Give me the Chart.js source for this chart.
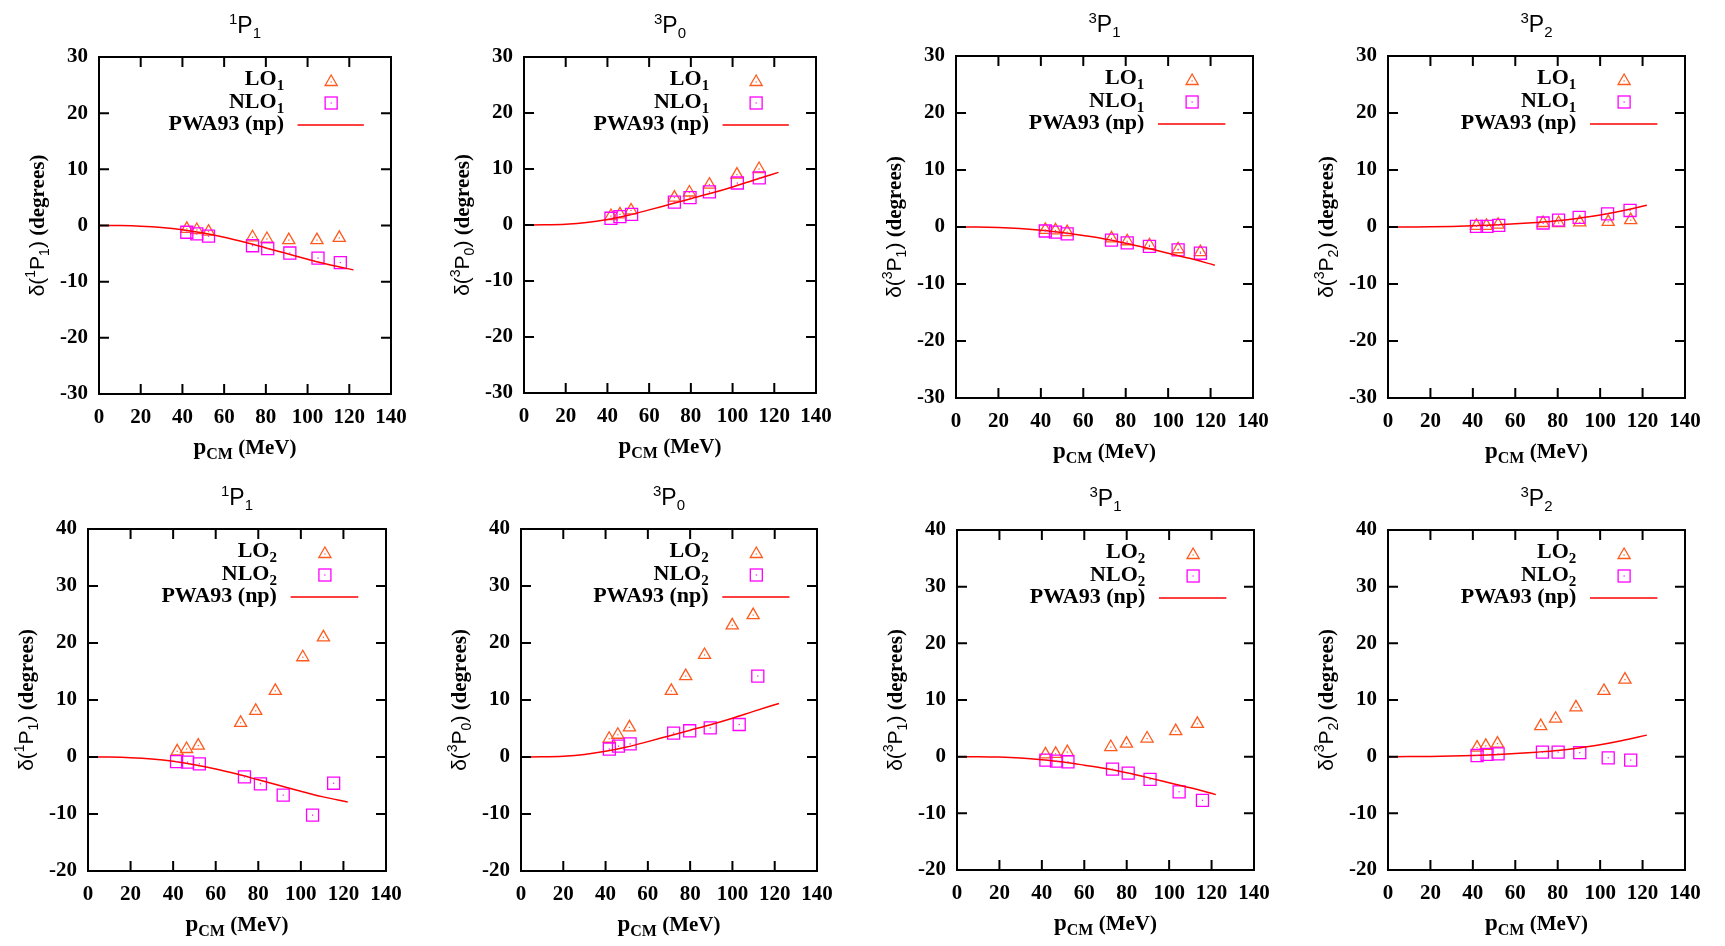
<!DOCTYPE html>
<html>
<head>
<meta charset="utf-8">
<script src="https://cdn.jsdelivr.net/npm/chart.js@4.4.0/dist/chart.umd.min.js"></script>
<style>
  body { margin: 0; background: #fff; width: 1725px; height: 946px; position: relative; overflow: hidden; }
  canvas { position: absolute; }
</style>
</head>
<body>
<script>
// ---- DATA ----

// PWA93 (np) curves, shared momentum grid
var pwaP   = [0, 10, 20, 30, 40, 50, 60, 70, 80, 90, 100, 110, 122];
var pwa1P1 = [0, -0.02, -0.12, -0.35, -0.75, -1.35, -2.1, -3.0, -4.0, -5.0, -6.0, -6.95, -7.9];
var pwa3P0 = [0, 0.03, 0.15, 0.45, 1.0, 1.75, 2.7, 3.7, 4.7, 5.7, 6.8, 8.0, 9.4];
var pwa3P1 = [0, -0.01, -0.08, -0.25, -0.55, -0.95, -1.5, -2.1, -2.85, -3.7, -4.6, -5.5, -6.7];
var pwa3P2 = [0, 0.01, 0.03, 0.1, 0.2, 0.35, 0.55, 0.8, 1.1, 1.55, 2.1, 2.8, 3.8];

// top row: LO1 / NLO1
var lo1_1P1_x  = [42.1, 46.9, 52.5, 73.6, 80.5, 91.0, 104.5, 115.2];
var lo1_1P1_y  = [-0.6, -0.8, -1.1, -2.1, -2.4, -2.6, -2.6, -2.2];
var nlo1_1P1_x = [42.1, 46.9, 52.5, 73.6, 80.9, 91.5, 105.0, 115.7];
var nlo1_1P1_y = [-1.2, -1.5, -1.9, -3.6, -4.1, -4.9, -5.8, -6.6];

var lo1_3P0_x  = [41.7, 46.0, 51.3, 72.1, 79.3, 88.9, 102.1, 112.7];
var lo1_3P0_y  = [1.6, 1.9, 2.6, 4.9, 5.8, 7.2, 9.0, 10.0];
var nlo1_3P0_x = [41.7, 46.0, 51.6, 72.1, 79.6, 88.9, 102.3, 112.8];
var nlo1_3P0_y = [1.2, 1.5, 1.9, 4.1, 4.9, 5.9, 7.5, 8.4];

var lo1_3P1_x  = [42.1, 46.9, 52.4, 73.3, 80.7, 91.2, 104.7, 115.2];
var lo1_3P1_y  = [-0.5, -0.6, -0.9, -2.0, -2.5, -3.2, -3.9, -4.4];
var nlo1_3P1_x = [42.1, 46.9, 52.4, 73.3, 80.7, 91.2, 104.7, 115.2];
var nlo1_3P1_y = [-0.7, -0.9, -1.2, -2.3, -2.8, -3.4, -4.0, -4.6];

var lo1_3P2_x  = [41.7, 46.4, 51.9, 73.1, 80.4, 90.4, 103.8, 114.4];
var lo1_3P2_y  = [0.2, 0.2, 0.4, 0.7, 0.7, 0.8, 0.9, 1.2];
var nlo1_3P2_x = [41.7, 46.7, 52.2, 73.1, 80.4, 90.1, 103.5, 114.1];
var nlo1_3P2_y = [0.1, 0.1, 0.3, 0.7, 1.2, 1.7, 2.3, 2.9];

// bottom row: LO2 / NLO2
var lo2_1P1_x  = [41.9, 46.3, 51.8, 71.7, 78.8, 88.0, 100.9, 110.6];
var lo2_1P1_y  = [1.0, 1.4, 2.0, 6.0, 8.1, 11.6, 17.5, 21.0];
var nlo2_1P1_x = [41.6, 46.8, 52.3, 73.5, 81.0, 91.7, 105.5, 115.4];
var nlo2_1P1_y = [-0.8, -0.9, -1.2, -3.5, -4.7, -6.7, -10.2, -4.6];

var lo2_3P0_x  = [41.7, 45.8, 51.3, 71.1, 77.9, 86.8, 99.9, 109.8];
var lo2_3P0_y  = [3.2, 3.9, 5.2, 11.6, 14.2, 17.9, 23.1, 24.9];
var nlo2_3P0_x = [41.8, 46.1, 51.6, 72.2, 79.8, 89.5, 103.2, 112.0];
var nlo2_3P0_y = [1.4, 1.9, 2.3, 4.2, 4.6, 5.1, 5.7, 14.2];

var lo2_3P1_x  = [41.7, 46.5, 52.0, 72.5, 79.9, 89.6, 103.1, 113.3];
var lo2_3P1_y  = [0.4, 0.5, 0.8, 1.7, 2.3, 3.2, 4.5, 5.8];
var nlo2_3P1_x = [41.9, 46.9, 52.3, 73.3, 80.7, 91.0, 104.7, 115.7];
var nlo2_3P1_y = [-0.6, -0.8, -0.9, -2.2, -2.9, -4.0, -6.2, -7.7];

var lo2_3P2_x  = [42.0, 46.1, 51.6, 72.0, 79.0, 88.6, 101.8, 111.7];
var lo2_3P2_y  = [1.6, 1.9, 2.3, 5.4, 6.7, 8.7, 11.6, 13.6];
var nlo2_3P2_x = [42.0, 46.7, 51.9, 72.8, 80.2, 90.4, 103.8, 114.4];
var nlo2_3P2_y = [0.2, 0.4, 0.5, 0.8, 0.8, 0.7, -0.2, -0.6];

// axis ticks
var xTicks = [0, 20, 40, 60, 80, 100, 120, 140];
var yTicksTop = [-30, -20, -10, 0, 10, 20, 30];
var yTicksBottom = [-20, -10, 0, 10, 20, 30, 40];

// ---- STYLE ----
var LO_COLOR = '#ff5a1e';
var NLO_COLOR = '#ff00ff';
var PWA_COLOR = '#ff0000';
var SERIF = '"Liberation Serif", "Times New Roman", serif';
var SANS = '"Liberation Sans", Arial, sans-serif';

// panel boxes (plot area in page pixels)
var panels = [
  {sup:'1', sub:'1', ord:'1', L:99,   R:391,  T:57,  B:394, yt:yTicksTop, lo:[lo1_1P1_x, lo1_1P1_y], nlo:[nlo1_1P1_x, nlo1_1P1_y], pwa:pwa1P1},
  {sup:'3', sub:'0', ord:'1', L:524,  R:816,  T:57,  B:393, yt:yTicksTop, lo:[lo1_3P0_x, lo1_3P0_y], nlo:[nlo1_3P0_x, nlo1_3P0_y], pwa:pwa3P0},
  {sup:'3', sub:'1', ord:'1', L:956,  R:1253, T:56,  B:398, yt:yTicksTop, lo:[lo1_3P1_x, lo1_3P1_y], nlo:[nlo1_3P1_x, nlo1_3P1_y], pwa:pwa3P1},
  {sup:'3', sub:'2', ord:'1', L:1388, R:1685, T:56,  B:398, yt:yTicksTop, lo:[lo1_3P2_x, lo1_3P2_y], nlo:[nlo1_3P2_x, nlo1_3P2_y], pwa:pwa3P2},
  {sup:'1', sub:'1', ord:'2', L:88,   R:386,  T:529, B:871, yt:yTicksBottom, lo:[lo2_1P1_x, lo2_1P1_y], nlo:[nlo2_1P1_x, nlo2_1P1_y], pwa:pwa1P1},
  {sup:'3', sub:'0', ord:'2', L:521,  R:817,  T:529, B:871, yt:yTicksBottom, lo:[lo2_3P0_x, lo2_3P0_y], nlo:[nlo2_3P0_x, nlo2_3P0_y], pwa:pwa3P0},
  {sup:'3', sub:'1', ord:'2', L:957,  R:1254, T:530, B:870, yt:yTicksBottom, lo:[lo2_3P1_x, lo2_3P1_y], nlo:[nlo2_3P1_x, nlo2_3P1_y], pwa:pwa3P1},
  {sup:'3', sub:'2', ord:'2', L:1388, R:1685, T:530, B:870, yt:yTicksBottom, lo:[lo2_3P2_x, lo2_3P2_y], nlo:[nlo2_3P2_x, nlo2_3P2_y], pwa:pwa3P2}
];

var PAD_L = 100, PAD_T = 60, PAD_R = 40, PAD_B = 75;

function toPoints(xs, ys) {
  return xs.map(function (x, i) { return {x: x, y: ys[i]}; });
}

// draw a row of text pieces with different fonts / offsets
function drawRuns(ctx, runs, x, y, align) {
  var w = 0;
  runs.forEach(function (r) { ctx.font = r.font; r.w = ctx.measureText(r.t).width; w += r.w; });
  var cx = align === 'center' ? x - w / 2 : (align === 'right' ? x - w : x);
  ctx.textAlign = 'left';
  ctx.textBaseline = 'alphabetic';
  runs.forEach(function (r) { ctx.font = r.font; ctx.fillText(r.t, cx, y + (r.dy || 0)); cx += r.w; });
}

function triangle(ctx, x, y, r) {
  ctx.beginPath();
  ctx.moveTo(x, y - r);
  ctx.lineTo(x + r * 0.866, y + r / 2);
  ctx.lineTo(x - r * 0.866, y + r / 2);
  ctx.closePath();
  ctx.stroke();
}

var decor = {
  id: 'decor',
  afterDatasetsDraw: function (chart, args, opts) {
    var p = opts.panel;
    var ctx = chart.ctx;
    var a = chart.chartArea;
    var xs = chart.scales.x, ys = chart.scales.y;
    ctx.save();

    // little dots in the middle of the open markers
    [0, 1].forEach(function (di) {
      var meta = chart.getDatasetMeta(di);
      ctx.fillStyle = chart.data.datasets[di].borderColor;
      meta.data.forEach(function (el) { ctx.fillRect(el.x - 0.6, el.y - 0.6, 1.2, 1.2); });
    });

    // frame and inward ticks (gnuplot style, mirrored)
    ctx.strokeStyle = '#000';
    ctx.lineWidth = 2;
    ctx.strokeRect(a.left, a.top, a.right - a.left, a.bottom - a.top);
    ctx.beginPath();
    xTicks.forEach(function (v) {
      var px = xs.getPixelForValue(v);
      ctx.moveTo(px, a.bottom); ctx.lineTo(px, a.bottom - 10);
      ctx.moveTo(px, a.top); ctx.lineTo(px, a.top + 10);
    });
    p.yt.forEach(function (v) {
      var py = ys.getPixelForValue(v);
      ctx.moveTo(a.left, py); ctx.lineTo(a.left + 10, py);
      ctx.moveTo(a.right, py); ctx.lineTo(a.right - 10, py);
    });
    ctx.stroke();

    ctx.fillStyle = '#000';
    var cxm = (a.left + a.right) / 2;

    // panel title, e.g. 1P1
    drawRuns(ctx, [
      {t: p.sup, font: '15px ' + SANS, dy: -9},
      {t: 'P', font: '23px ' + SANS},
      {t: p.sub, font: '15px ' + SANS, dy: 5}
    ], cxm, a.top - 24, 'center');

    // x axis title
    drawRuns(ctx, [
      {t: 'p', font: 'bold 23px ' + SERIF},
      {t: 'CM', font: 'bold 16px ' + SERIF, dy: 5},
      {t: ' (MeV)', font: 'bold 21px ' + SERIF}
    ], cxm, a.bottom + 60, 'center');

    // y axis title (rotated)
    ctx.save();
    ctx.translate(a.left - 55, (a.top + a.bottom) / 2);
    ctx.rotate(-Math.PI / 2);
    drawRuns(ctx, [
      {t: 'δ(', font: '21px ' + SANS},
      {t: p.sup, font: '14px ' + SANS, dy: -9},
      {t: 'P', font: '21px ' + SANS},
      {t: p.sub, font: '14px ' + SANS, dy: 5},
      {t: ')', font: '21px ' + SANS},
      {t: ' (degrees)', font: 'bold 21px ' + SERIF}
    ], 0, 0, 'center');
    ctx.restore();

    // key
    var w = a.right - a.left;
    var tx = a.left + w * 0.634;
    var mx = a.left + w * 0.795;
    var rows = [a.top + 23, a.top + 46, a.top + 68];
    drawRuns(ctx, [{t: 'LO', font: 'bold 22px ' + SERIF}, {t: p.ord, font: 'bold 15px ' + SERIF, dy: 5}], tx, rows[0] + 5, 'right');
    drawRuns(ctx, [{t: 'NLO', font: 'bold 22px ' + SERIF}, {t: p.ord, font: 'bold 15px ' + SERIF, dy: 5}], tx, rows[1] + 5, 'right');
    drawRuns(ctx, [{t: 'PWA93 (np)', font: 'bold 22px ' + SERIF}], tx, rows[2] + 5, 'right');

    ctx.lineWidth = 1.3;
    ctx.strokeStyle = LO_COLOR;
    triangle(ctx, mx, rows[0] + 2, 7);
    ctx.fillStyle = LO_COLOR;
    ctx.fillRect(mx - 0.6, rows[0] + 1.4, 1.2, 1.2);
    ctx.strokeStyle = NLO_COLOR;
    ctx.strokeRect(mx - 6, rows[1] - 6, 12, 12);
    ctx.fillStyle = NLO_COLOR;
    ctx.fillRect(mx - 0.6, rows[1] - 0.6, 1.2, 1.2);
    ctx.strokeStyle = PWA_COLOR;
    ctx.lineWidth = 1.5;
    ctx.beginPath();
    ctx.moveTo(a.left + w * 0.68, rows[2]);
    ctx.lineTo(a.left + w * 0.907, rows[2]);
    ctx.stroke();

    ctx.restore();
  }
};

panels.forEach(function (p) {
  var cv = document.createElement('canvas');
  var cw = (p.R - p.L) + PAD_L + PAD_R;
  var ch = (p.B - p.T) + PAD_T + PAD_B;
  cv.width = cw; cv.height = ch;
  cv.style.left = (p.L - PAD_L) + 'px';
  cv.style.top = (p.T - PAD_T) + 'px';
  cv.style.width = cw + 'px';
  cv.style.height = ch + 'px';
  document.body.appendChild(cv);

  var pwaPts = pwaP.map(function (x, i) { return {x: x, y: p.pwa[i]}; });

  new Chart(cv, {
    type: 'scatter',
    data: {
      datasets: [
        {
          label: 'LO' + p.ord,
          data: toPoints(p.lo[0], p.lo[1]),
          pointStyle: 'triangle',
          pointRadius: 7,
          borderColor: LO_COLOR,
          backgroundColor: 'rgba(0,0,0,0)',
          borderWidth: 1.3,
          order: 3
        },
        {
          label: 'NLO' + p.ord,
          data: toPoints(p.nlo[0], p.nlo[1]),
          pointStyle: 'rect',
          pointRadius: 8.5,
          borderColor: NLO_COLOR,
          backgroundColor: 'rgba(0,0,0,0)',
          borderWidth: 1.3,
          order: 2
        },
        {
          label: 'PWA93 (np)',
          data: pwaPts,
          showLine: true,
          pointRadius: 0,
          borderColor: PWA_COLOR,
          borderWidth: 1.5,
          cubicInterpolationMode: 'monotone',
          order: 1
        }
      ]
    },
    options: {
      responsive: false,
      animation: false,
      devicePixelRatio: 1,
      layout: { padding: { left: 0, top: PAD_T, right: PAD_R, bottom: 0 } },
      plugins: {
        legend: { display: false },
        tooltip: { enabled: false },
        decor: { panel: p }
      },
      scales: {
        x: {
          type: 'linear',
          min: 0, max: 140,
          afterBuildTicks: function (s) { s.ticks = xTicks.map(function (v) { return {value: v}; }); },
          ticks: { font: { family: SERIF, weight: 'bold', size: 21 }, color: '#000', padding: 11, maxRotation: 0, autoSkip: false },
          grid: { display: false, drawTicks: false },
          border: { display: false },
          afterFit: function (s) { s.height = PAD_B; }
        },
        y: {
          type: 'linear',
          min: p.yt[0], max: p.yt[p.yt.length - 1],
          afterBuildTicks: function (s) { s.ticks = p.yt.map(function (v) { return {value: v}; }); },
          ticks: { font: { family: SERIF, weight: 'bold', size: 21 }, color: '#000', padding: 11, autoSkip: false },
          grid: { display: false, drawTicks: false },
          border: { display: false },
          afterFit: function (s) { s.width = PAD_L; }
        }
      }
    },
    plugins: [decor]
  });
});
</script>
</body>
</html>
